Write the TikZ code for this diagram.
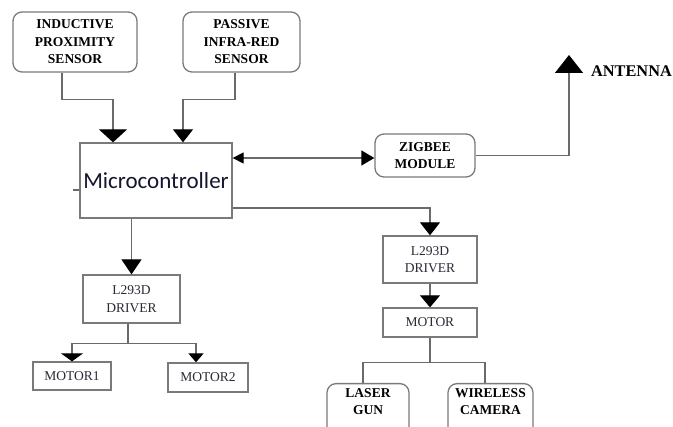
\documentclass[tikz,border=0pt]{standalone}
\usepackage{fontspec}
\setmainfont{Liberation Serif}
\newfontfamily\mcfont{Carlito}
\newfontfamily\serfont{Liberation Serif}
\usetikzlibrary{arrows.meta}
\definecolor{boxgray}{HTML}{7A7A7A}
\definecolor{linegray}{HTML}{6A6A6A}
\definecolor{mctext}{HTML}{15152E}
\definecolor{regtext}{HTML}{2A2A35}
\tikzset{
  sqbox/.style={draw=boxgray, line width=1.3pt, fill=white, inner sep=0pt, align=center, text=regtext, font=\serfont\fontsize{13.5}{17.5}\selectfont},
  rbox/.style={draw=boxgray, line width=1.3pt, fill=white, inner sep=0pt, align=center, rounded corners=9pt, font=\serfont\bfseries\fontsize{13.5}{17.5}\selectfont},
  conn/.style={draw=linegray, line width=1.3pt},
  tipA/.style={-{Triangle[width=#1,length=13pt,color=black]}},
}
\begin{document}
\begin{tikzpicture}[x=1pt,y=-1pt]
\clip (0,0) rectangle (673,427);
\fill[white] (0,0) rectangle (673,427);

% nodes
\node[rbox, minimum width=124, minimum height=60] (ind) at (75,42) {INDUCTIVE\\PROXIMITY\\SENSOR};
\node[rbox, minimum width=117, minimum height=60] (pir) at (241.5,42) {PASSIVE\\INFRA-RED\\SENSOR};
\node[draw=boxgray, line width=1.3pt, fill=white, inner sep=0pt, minimum width=152, minimum height=75, text=mctext, font=\mcfont\fontsize{23}{26}\selectfont] (mc) at (156,180.5) {Microcontroller};
\node[rbox, minimum width=100, minimum height=43] (zig) at (425,155.5) {ZIGBEE\\MODULE};
\coordinate (ant) at (569,55);
\node[anchor=west, font=\serfont\bfseries\fontsize{16.3}{18}\selectfont, inner sep=0pt] (antl) at (591,71) {ANTENNA};
\node[sqbox, minimum width=97, minimum height=48] (drvL) at (131.5,299) {L293D\\DRIVER};
\node[sqbox, minimum width=78, minimum height=28] (m1) at (72,376) {MOTOR1};
\node[sqbox, minimum width=80, minimum height=29] (m2) at (208,377.5) {MOTOR2};
\node[sqbox, minimum width=94, minimum height=47] (drvR) at (430,259.5) {L293D\\DRIVER};
\node[sqbox, minimum width=94, minimum height=29] (mot) at (430,322.5) {MOTOR};
\node[rbox, minimum width=82, minimum height=62, anchor=north] (laser) at (368,383) {};
\node[anchor=north, align=center, inner sep=0pt, font=\serfont\bfseries\fontsize{13.5}{17.5}\selectfont] (laserT) at ([yshift=-5]laser.north) {LASER\\GUN};
\node[rbox, minimum width=85, minimum height=62, anchor=north] (cam) at (490.5,383) {};
\node[anchor=north, align=center, inner sep=0pt, font=\serfont\bfseries\fontsize{13.5}{17.5}\selectfont] (camT) at ([yshift=-5]cam.north) {WIRELESS\\CAMERA};

% connectors
\draw[conn, tipA=28pt] ([xshift=-13]ind.south) -- ++(0,27) -| ([xshift=-43]mc.north);
\draw[conn, tipA=20pt] ([xshift=-6.5]pir.south) -- ++(0,27) -| ([xshift=27]mc.north);
\draw[conn, {Triangle[width=11pt,length=11pt,color=black]}-{Triangle[width=15pt,length=13pt,color=black]}]
  ([yshift=22.5]mc.east) -- ([yshift=22.5]mc.east -| zig.west);
\draw[conn, -{Triangle[width=28pt,length=18pt,color=black]}] (zig.east) -| (ant);
\draw[conn, tipA=20pt] ([yshift=-27.5]mc.east) -| (drvR.north);
\draw[conn, -{Triangle[width=20pt,length=12pt,color=black]}] (drvR.south) -- (mot.north);
\draw[conn] (mot.south) -- ++(0,25) coordinate (jr);
\draw[conn] (jr) -| ([xshift=-5]laser.north);
\draw[conn] (jr) -| ([xshift=-5.5]cam.north);
\draw[conn, -{Triangle[width=20pt,length=15pt,color=black]}] (drvL.north |- mc.south) -- (drvL.north);
\draw[conn] ([xshift=-3.5]drvL.south) -- ++(0,20) coordinate (jl);
\draw[conn, -{Triangle[width=22pt,length=8pt,color=black]}] (jl) -| (m1.north);
\draw[conn, -{Triangle[width=15pt,length=9pt,color=black]}] (jl) -| ([xshift=-12]m2.north);
\draw[conn] ([yshift=-9.5]mc.west) -- ++(-6,0);
\end{tikzpicture}
\end{document}
